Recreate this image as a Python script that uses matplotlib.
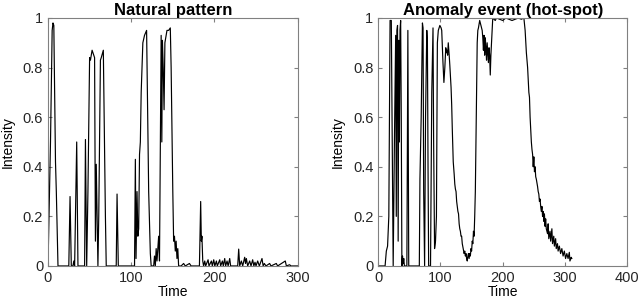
import matplotlib.pyplot as plt

plt.rcParams['font.family'] = ['Liberation Sans', 'DejaVu Sans']
plt.rcParams['font.size'] = 10

# natural pattern (time, intensity)
nat_t = [0, 3, 5, 6, 7, 8, 9, 10, 12, 25, 26.5, 28, 30, 31, 32, 34.5, 36, 44, 45, 46.5,
         48, 50, 51, 53, 55, 56, 57, 58, 59, 60, 61, 63, 64, 66.5, 67.5, 69, 70, 82, 83, 84.5,
         104, 105, 105.8, 107, 108, 109, 110, 111, 112, 114, 116, 118.5, 119.5, 121, 123, 124,
         127, 128, 129, 130, 131, 132, 133, 134, 135, 136, 136.8, 137.5, 138.5, 139.5, 140.5,
         142, 143, 145, 147, 148, 150, 151, 152, 153, 154, 155, 156, 157, 160, 163, 165, 170, 172,
         182, 183.5, 184.3, 185, 186, 187,
         188.4, 189.5, 192.4, 193.5, 196.4, 197.5, 199.2, 200.5, 202.4, 203.5, 206.4, 207.5,
         209.6, 210.7, 212.4, 213.5, 215.2, 216.5, 218.4, 219.5, 228, 229.2, 230.4,
         232.4, 234, 236.4, 237.4, 238.4, 240, 242.4, 244, 246, 247.4, 248.8, 250, 252, 254,
         257.2, 258.6, 260, 262, 266.4, 268, 274.4, 276, 285.2, 286.5, 290.4, 292, 300]
nat_v = [0, 0.5, 0.95, 0.98, 0.97, 0.7, 0.42, 0.3, 0, 0, 0.28, 0, 0, 0.02, 0, 0.5, 0, 0, 0.51, 0,
         0.3, 0.84, 0.83, 0.87, 0.85, 0.84, 0.1, 0.41, 0.2, 0, 0.2, 0.83, 0.84, 0.87, 0.6, 0.2, 0, 0, 0.29, 0,
         0, 0.43, 0.03, 0.3, 0.12, 0.15, 0.45, 0.5, 0.7, 0.9, 0.93, 0.95, 0.7, 0.3, 0.05, 0,
         0, 0.04, 0, 0.07, 0.02, 0.07, 0.12, 0.02, 0.5, 0.93, 0.5, 0.91, 0.8, 0.63, 0.9,
         0.93, 0.95, 0.95, 0.96, 0.8, 0.3, 0.1, 0.12, 0.06, 0.1, 0.03, 0.07, 0, 0, 0.01, 0, 0.01, 0,
         0, 0.26, 0.1, 0.12, 0.02, 0,
         0.02, 0, 0.025, 0, 0.02, 0, 0.025, 0, 0.02, 0, 0.025, 0,
         0.02, 0, 0.03, 0, 0.02, 0, 0.03, 0, 0, 0.068, 0,
         0.02, 0, 0.035, 0.01, 0.03, 0, 0.02, 0, 0.025, 0, 0.015, 0, 0.02, 0,
         0.03, 0, 0.01, 0, 0.01, 0, 0.01, 0, 0.02, 0, 0.005, 0, 0]

# anomaly event (time, intensity)
ano_t = [0, 11, 13, 15, 17, 19, 21, 23, 24, 26, 28, 29, 30, 31, 32, 33, 34, 35, 36, 37, 38,
         39, 40, 41, 42, 46, 47.6, 49, 66, 67, 69, 71, 72, 73, 74.5, 76, 78, 79, 80, 81, 84,
         86, 88, 89, 90.5, 92, 93.5, 95, 96.5, 99, 101, 102, 104, 105.5, 107, 108.5, 109.5,
         110.5, 111.5, 112.5, 114, 115, 117, 118, 119, 120.5, 122, 123, 124, 125, 126, 127,
         128, 129, 130, 131, 132, 133, 134, 135, 136.5, 138, 139, 140, 141, 142, 143, 144,
         145, 146, 147, 148, 149, 150, 151, 152, 153, 154, 155, 156, 157, 158, 159, 160, 161,
         163, 165, 167, 168, 169, 170, 171, 172, 173, 174, 175, 176, 177, 178, 179, 180, 181,
         182, 183, 184, 188, 190, 195, 200, 205, 210, 215, 220, 225, 230, 234,
         236, 238, 240, 241, 242, 243, 244, 245, 246, 247, 248, 249, 250, 251, 252, 253, 254,
         256, 257, 258, 259, 260, 261, 262, 263, 264, 265, 266, 267, 268, 269, 270, 272, 273,
         274, 276, 277, 279, 280, 282, 283, 285, 286, 288, 289, 291, 293, 295, 297, 299, 301,
         303, 305, 307, 308, 310, 311]
ano_v = [0, 0, 0.06, 0.08, 0.2, 0.99, 0.99, 0.3, 0, 0.5, 0.93, 0.2, 0.95, 0.97, 0.1, 0.91,
         0.5, 0.95, 0.99, 0.6, 0, 0.04, 0.01, 0.03, 0, 0, 0.95, 0, 0, 0.35, 0.6, 0.98, 0.96,
         0.3, 0, 0.6, 0.95, 0.9, 0.4, 0, 0, 0.7, 0.96, 0.5, 0.07, 0.1, 0.2, 0.9, 0.95, 0.97,
         0.96, 0.95, 0.82, 0.74, 0.8, 0.88, 0.86, 0.87, 0.85, 0.9, 0.85, 0.81, 0.72, 0.65,
         0.55, 0.42, 0.37, 0.33, 0.31, 0.3, 0.26, 0.24, 0.22, 0.21, 0.17, 0.15, 0.14, 0.12,
         0.12, 0.09, 0.07, 0.05, 0.06, 0.04, 0.05, 0.03, 0.02, 0.04, 0.05, 0.03, 0.05, 0.04,
         0.07, 0.06, 0.1, 0.09, 0.14, 0.12, 0.2, 0.3, 0.5, 0.7, 0.9, 0.95, 0.96, 0.99, 0.97,
         0.95, 0.92, 0.87, 0.93, 0.85, 0.92, 0.88, 0.83, 0.9, 0.86, 0.82, 0.88, 0.85, 0.77,
         0.85, 0.9, 0.95, 1.0, 0.99, 1.0, 0.995, 0.99, 1.0, 0.995, 0.99, 0.995, 1.0, 0.995, 1.0,
         0.95, 0.86, 0.8, 0.75, 0.7, 0.68, 0.6, 0.55, 0.5, 0.47, 0.45, 0.4, 0.44, 0.38, 0.4,
         0.36, 0.35, 0.32, 0.3, 0.29, 0.26, 0.27, 0.24, 0.22, 0.24, 0.2, 0.22, 0.18, 0.21,
         0.16, 0.19, 0.15, 0.13, 0.17, 0.11, 0.14, 0.1, 0.15, 0.09, 0.12, 0.08, 0.11, 0.07,
         0.09, 0.06, 0.08, 0.05, 0.07, 0.04, 0.06, 0.03, 0.05, 0.03, 0.055, 0.02, 0.035, 0.03]

fig = plt.figure(figsize=(6.4, 3.05), dpi=100)
ax1 = fig.add_axes([0.075, 0.128, 0.39, 0.813])
ax2 = fig.add_axes([0.591, 0.128, 0.389, 0.813])

panels = [(ax1, nat_t, nat_v, 'Natural pattern', 300),
          (ax2, ano_t, ano_v, 'Anomaly event (hot-spot)', 400)]

for ax, t, v, title, xmax in panels:
    ax.plot(t, v, color='black', lw=0.85)
    ax.set_xlim(0, xmax)
    ax.set_ylim(0, 1)
    ax.set_xticks(range(0, xmax + 1, 100))
    ax.set_yticks([0, 0.2, 0.4, 0.6, 0.8, 1])
    ax.set_yticklabels(['0', '0.2', '0.4', '0.6', '0.8', '1'])
    ax.set_xlabel('Time', labelpad=0)
    ax.set_ylabel('Intensity', labelpad=6)
    ax.set_title(title, fontweight='bold', pad=2)
    ax.tick_params(direction='in', top=True, right=True, length=3,
                   color='#808080', labelcolor='#262626', labelsize=10.5)
    for s in ax.spines.values():
        s.set_color('#808080')
        s.set_linewidth(0.8)

plt.savefig('out.png', dpi=100)
